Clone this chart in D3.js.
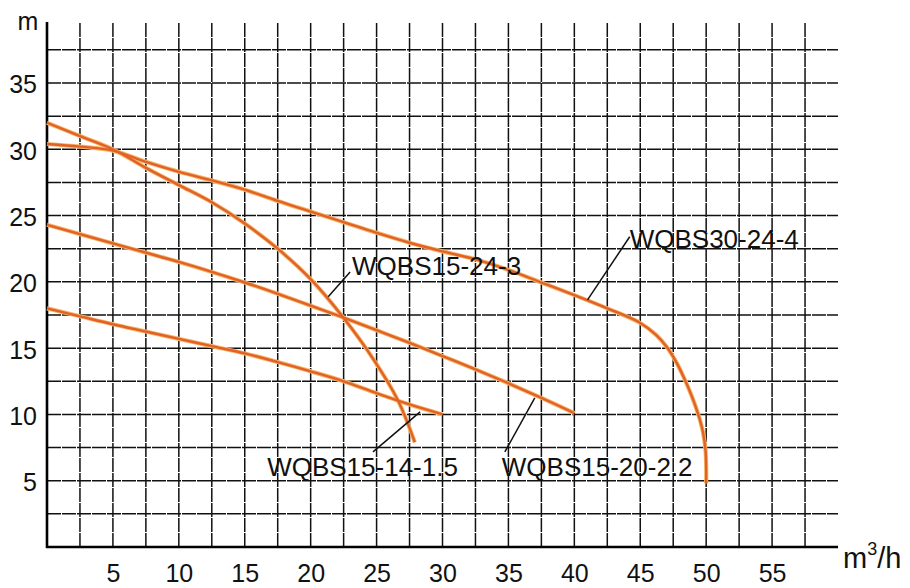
<!DOCTYPE html>
<html>
<head>
<meta charset="utf-8">
<script src="https://cdn.jsdelivr.net/npm/d3@7/dist/d3.min.js"></script>
<style>
body{margin:0;background:#fff;}
text{font-family:"Liberation Sans",Arial,sans-serif;fill:#111;}
</style>
</head>
<body>
<div id="chart"></div>
<script>
// tick labels
const xTicks = [5,10,15,20,25,30,35,40,45,50,55];
const yTicks = [5,10,15,20,25,30,35];

// pump curves, [flow m3/h, head m]
const wqbs30_24_4 = [[0,30.4],[2.5,30.2],[5,29.9],[7.5,29.05],[10,28.3],[12.5,27.65],[15,26.95],[17.5,26.1],[20,25.3],[22.5,24.5],[25,23.7],[27.5,22.95],[30,22.3],[32.5,21.7],[35,20.9],[37.5,19.95],[40,19.0],[42.5,18.0],[45,16.9],[46.2,16.0],[47,15.1],[47.7,14.0],[48.3,12.8],[48.9,11.4],[49.4,10.0],[49.75,8.7],[49.95,7.3],[50,6.0],[50,4.8]];
const wqbs15_24_3 = [[0,32.0],[2.5,31.0],[5,30.0],[7.5,28.6],[10,27.3],[12.5,26.0],[15,24.4],[17.5,22.5],[20,20.2],[22.4,17.4],[24.8,14.1],[26.6,11.1],[27.9,7.9]];
const wqbs15_20_2_2 = [[0,24.3],[2.5,23.6],[5,22.9],[7.5,22.2],[10,21.5],[12.5,20.75],[15,19.95],[17.5,19.1],[20,18.2],[22.5,17.3],[25,16.35],[27.5,15.4],[30,14.4],[32.5,13.4],[35,12.35],[37.5,11.25],[40,10.1]];
const wqbs15_14_1_5 = [[0,18.0],[2.5,17.4],[5,16.8],[7.5,16.25],[10,15.7],[12.5,15.15],[15,14.6],[17.5,13.95],[20,13.25],[22.5,12.5],[25,11.6],[27.5,10.75],[30,10.0]];

const series = [wqbs30_24_4, wqbs15_24_3, wqbs15_20_2_2, wqbs15_14_1_5];

// labels: name, text start, leader line from -> to (data units)
const labelNames = ['WQBS30-24-4','WQBS15-24-3','WQBS15-14-1.5','WQBS15-20-2.2'];
const labelPos = [[44.2,22.57],[23.14,20.53],[16.7,5.36],[34.5,5.36]];
const leaderFrom = [[44.2,23.4],[22.99,20.75],[24.73,7.17],[34.73,7.17]];
const leaderTo = [[41.0,18.64],[21.33,18.87],[28.3,10.19],[37.0,11.25]];

var width = 910, height = 588;
var plotLeft = 47, plotRight = 838, plotTop = 22, plotBottom = 547;

const svg = d3.select('#chart')
    .append('svg')
    .attr('width', width)
    .attr('height', height);

const xScale = d3.scaleLinear().domain([0,60]).range([plotLeft,plotRight]);
const yScale = d3.scaleLinear().domain([0,39.6]).range([plotBottom,plotTop]);

// grid, every 2.5
const grid = svg.append('g')
    .attr('stroke','#111')
    .attr('stroke-width',1.5)
    .attr('stroke-dasharray','14,1');

grid.selectAll('.vg')
    .data(d3.range(2.5,60,2.5))
    .enter().append('line')
    .attr('class','vg')
    .attr('x1',d=>xScale(d)).attr('x2',d=>xScale(d))
    .attr('y1',yScale(0)).attr('y2',plotTop);

grid.selectAll('.hg')
    .data(d3.range(2.5,40,2.5))
    .enter().append('line')
    .attr('class','hg')
    .attr('x1',plotLeft).attr('x2',plotRight)
    .attr('y1',d=>yScale(d)).attr('y2',d=>yScale(d));

// axes
const xAxis = d3.axisBottom(xScale).tickValues(xTicks).tickSize(0).tickPadding(17);
const yAxis = d3.axisLeft(yScale).tickValues(yTicks).tickSize(0).tickPadding(10);

const gx = svg.append('g')
    .attr('transform', `translate(0, ${plotBottom})`)
    .call(xAxis);
const gy = svg.append('g')
    .attr('transform', `translate(${plotLeft}, 0)`)
    .call(yAxis);

[gx,gy].forEach(function(g){
    g.select('.domain').remove();
    g.selectAll('text')
        .attr('fill','#111')
        .style('font-family','"Liberation Sans",Arial,sans-serif')
        .style('font-size','25px');
});
gx.selectAll('text').attr('dy','0.71em');
gy.selectAll('text').attr('dy','0.4em');

svg.append('line')
    .attr('x1',plotLeft).attr('x2',plotLeft)
    .attr('y1',plotTop).attr('y2',plotBottom+1)
    .attr('stroke','#000').attr('stroke-width',2.6);
svg.append('line')
    .attr('x1',plotLeft-1).attr('x2',plotRight)
    .attr('y1',plotBottom).attr('y2',plotBottom)
    .attr('stroke','#000').attr('stroke-width',2.6);

svg.append('text')
    .attr('x',28).attr('y',30)
    .attr('text-anchor','middle')
    .style('font-size','25px')
    .text('m');

const unit = svg.append('text')
    .attr('x',843).attr('y',568)
    .style('font-size','29px');
unit.append('tspan').text('m');
unit.append('tspan').attr('dy',-13).style('font-size','18px').text('3');
unit.append('tspan').attr('dy',13).text('/h');

// curves
const line = d3.line()
    .x(d=>xScale(d[0]))
    .y(d=>yScale(d[1]))
    .curve(d3.curveCatmullRom.alpha(0.5));

svg.selectAll('.halo')
    .data(series)
    .enter().append('path')
    .attr('class','halo')
    .attr('d',line)
    .attr('fill','none')
    .attr('stroke','#f7b562')
    .attr('stroke-width',4.2);

svg.selectAll('.curve')
    .data(series)
    .enter().append('path')
    .attr('class','curve')
    .attr('d',line)
    .attr('fill','none')
    .attr('stroke','#e0622a')
    .attr('stroke-width',2.4);

// leaders and names
svg.selectAll('.leader')
    .data(labelNames)
    .enter().append('line')
    .attr('class','leader')
    .attr('x1',(d,i)=>xScale(leaderFrom[i][0]))
    .attr('y1',(d,i)=>yScale(leaderFrom[i][1]))
    .attr('x2',(d,i)=>xScale(leaderTo[i][0]))
    .attr('y2',(d,i)=>yScale(leaderTo[i][1]))
    .attr('stroke','#111')
    .attr('stroke-width',1.5);

svg.selectAll('.name')
    .data(labelNames)
    .enter().append('text')
    .attr('class','name')
    .attr('x',(d,i)=>xScale(labelPos[i][0]))
    .attr('y',(d,i)=>yScale(labelPos[i][1]))
    .style('font-size','26px')
    .text(d=>d);
</script>
</body>
</html>
